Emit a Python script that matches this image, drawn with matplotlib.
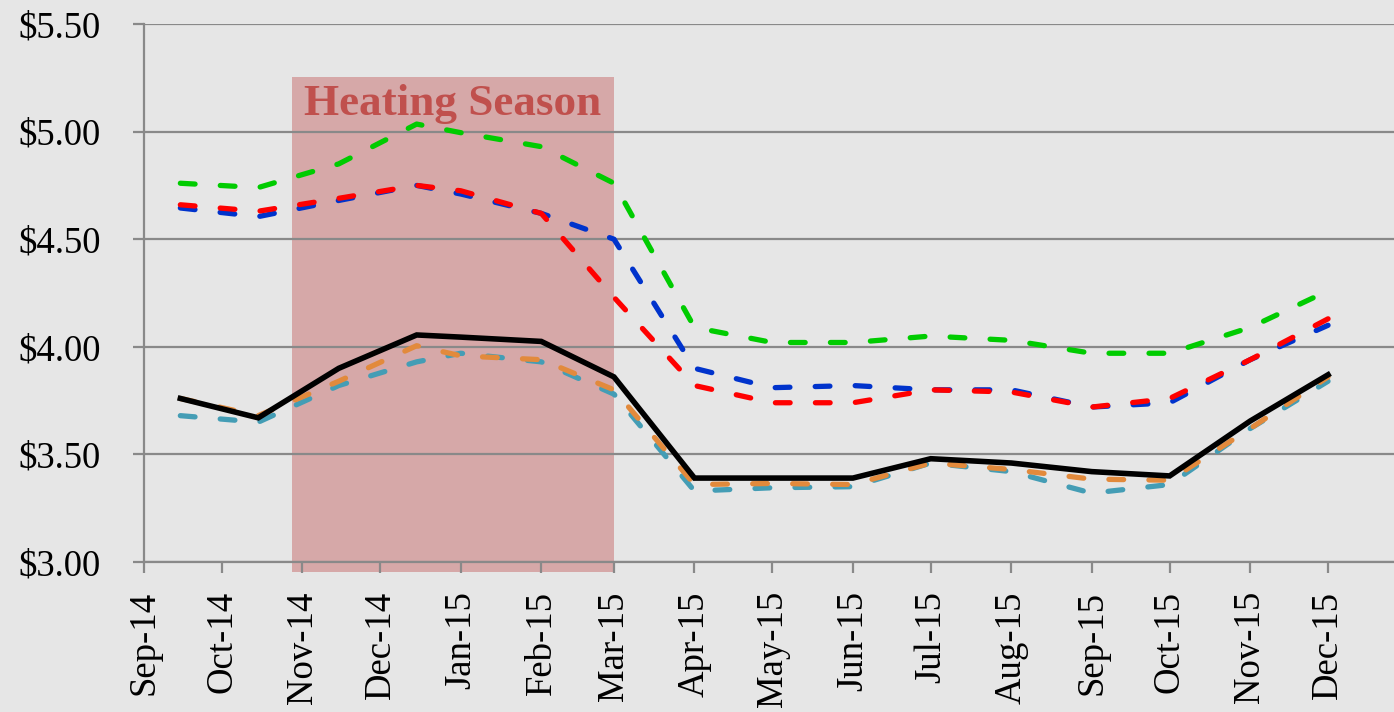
import matplotlib
matplotlib.use("Agg")
import matplotlib.pyplot as plt
import matplotlib.dates as mdates
from matplotlib.patches import Rectangle
import pandas as pd

# ---------------- data ----------------
dates = ["2014-09-15", "2014-10-15", "2014-11-15", "2014-12-15", "2015-01-01",
         "2015-02-01", "2015-03-01", "2015-04-01", "2015-05-01", "2015-06-01",
         "2015-07-01", "2015-08-01", "2015-09-01", "2015-10-01", "2015-11-01",
         "2015-12-01"]

actual    = [3.76, 3.67, 3.90, 4.055, 4.045, 4.025, 3.86, 3.39, 3.39, 3.39, 3.48, 3.46, 3.42, 3.40, 3.655, 3.87]
orange_s  = [3.76, 3.68, 3.84, 4.005, 3.958, 3.94, 3.80, 3.36, 3.365, 3.36, 3.46, 3.43, 3.385, 3.38, 3.62, 3.86]
teal_s    = [3.68, 3.65, 3.82, 3.93, 3.97, 3.93, 3.78, 3.33, 3.345, 3.35, 3.46, 3.42, 3.32, 3.36, 3.62, 3.84]
green_s   = [4.76, 4.74, 4.85, 5.035, 4.995, 4.93, 4.76, 4.09, 4.02, 4.02, 4.05, 4.03, 3.97, 3.97, 4.09, 4.26]
red_s     = [4.66, 4.63, 4.69, 4.75, 4.725, 4.62, 4.23, 3.82, 3.74, 3.74, 3.80, 3.79, 3.72, 3.76, 3.94, 4.13]
blue_s    = [4.645, 4.605, 4.68, 4.75, 4.71, 4.62, 4.50, 3.90, 3.81, 3.82, 3.80, 3.80, 3.72, 3.74, 3.94, 4.10]

tick_months = pd.date_range("2014-09-01", "2015-12-01", freq="MS")
tick_labels = [d.strftime("%b-%y") for d in tick_months]

season_start, season_end = "2014-10-28", "2015-03-01"
season_label = "Heating Season"

y_ticks = [3.0, 3.5, 4.0, 4.5, 5.0, 5.5]

# ---------------- style ----------------
bg = "#E6E6E6"
grid_c = "#898989"
plt.rcParams["font.family"] = ["Liberation Serif", "DejaVu Serif"]
plt.rcParams["lines.scale_dashes"] = False

fig = plt.figure(figsize=(13.94, 7.12), dpi=100, facecolor=bg)
ax = fig.add_axes([144 / 1394, 150 / 712, 1 - 144 / 1394, (562 - 24) / 712])
ax.set_facecolor(bg)

x = pd.to_datetime(dates)
x0 = mdates.date2num(pd.Timestamp("2014-09-01"))
ax.set_xlim(x0, x0 + 481.4)
ax.set_ylim(3.0, 5.5)

# heating season shading
s0 = mdates.date2num(pd.Timestamp(season_start))
s1 = mdates.date2num(pd.Timestamp(season_end))
ax.add_patch(Rectangle((s0, 2.953), s1 - s0, 5.255 - 2.953, facecolor="#D6A8A8",
                       edgecolor="none", zorder=0.3, clip_on=False))
ax.text((s0 + s1) / 2, 5.077, season_label, ha="center", va="baseline",
        fontsize=32.5, fontweight="bold", color="#C0504D", zorder=0.4)

dash = (10.6, 18.2)
lw = 3.8
ax.plot(x, blue_s, color="#0033CC", lw=lw, dashes=dash, dash_capstyle="round", zorder=3)
ax.plot(x, red_s, color="#FF0000", lw=lw, dashes=dash, dash_capstyle="round", zorder=3.1)
ax.plot(x, green_s, color="#00CC00", lw=lw, dashes=dash, dash_capstyle="round", zorder=3.2)
ax.plot(x, teal_s, color="#449DB5", lw=lw, dashes=dash, dash_capstyle="round", zorder=3.3)
ax.plot(x, orange_s, color="#E28A3C", lw=lw, dashes=dash, dash_capstyle="round", zorder=3.4)
ax.plot(x, actual, color="black", lw=4.0, solid_joinstyle="miter", zorder=4)

# axes & grid
ax.set_axisbelow(True)
ax.set_yticks(y_ticks)
ax.set_yticklabels(["${:.2f}".format(v) for v in y_ticks])
ax.yaxis.grid(True, color=grid_c, lw=1.6)
ax.set_xticks(mdates.date2num(tick_months))
ax.set_xticklabels(tick_labels, rotation=90)

for s in ["top", "right"]:
    ax.spines[s].set_visible(False)
for s in ["left", "bottom"]:
    ax.spines[s].set_color(grid_c)
    ax.spines[s].set_linewidth(1.6)
    ax.spines[s].set_zorder(0.5)

ax.tick_params(axis="y", direction="out", length=8, width=1.6, color=grid_c,
               pad=23, labelsize=26.5, labelcolor="black")
ax.tick_params(axis="x", direction="out", length=8, width=1.6, color=grid_c,
               pad=13, labelsize=26.5, labelcolor="black")

fig.savefig("out.png", dpi=100, facecolor=bg)
